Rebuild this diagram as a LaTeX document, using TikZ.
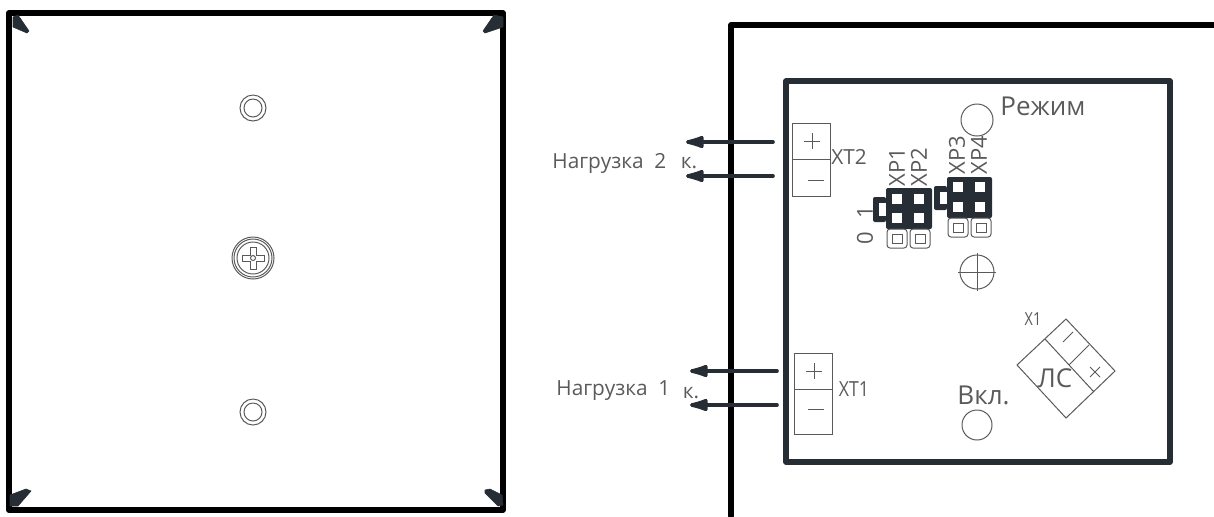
\documentclass[tikz,border=0pt]{standalone}
\usepackage{fontspec}
\setmainfont{Open Sans}
\usetikzlibrary{arrows.meta}
\definecolor{inkdark}{HTML}{262D35}
\definecolor{inkgray}{HTML}{5A5A5A}
\tikzset{
  frameline/.style={line width=2.9pt, line cap=round, line join=round},
  boxline/.style={line width=2.6pt, draw=inkdark, line join=round},
  thinline/.style={line width=0.5pt, draw=inkgray},
  wire/.style={line width=1.8pt, draw=inkdark, line cap=round, -{Latex[round,length=13pt,width=7pt]}},
  wedge/.style={fill=inkdark, draw=inkdark, line width=0.3pt, line join=round},
  lbl/.style={inner sep=0pt, text=inkgray, font=\fontsize{10.4}{11}\selectfont},
  lblbig/.style={lbl, font=\fontsize{13}{14}\selectfont},
  lblsmall/.style={lbl, xscale=0.8, font=\fontsize{9}{10}\selectfont},
  lblpin/.style={lbl, rotate=90, font=\fontsize{11}{12}\selectfont}
}
\begin{document}
\begin{tikzpicture}[x=0.5pt,y=-0.5pt]
\useasboundingbox (0,0) rectangle (1214,516);

% left panel
\draw[frameline] (9,13) rectangle (503,510);
\fill[wedge] (18,15)--(29,31)--(27,33)--(13,27)--(13,17)--cycle;
\fill[wedge] (494,15)--(483,31)--(485,33)--(503,27)--(503,17)--cycle;
\fill[wedge] (26,489)--(31,491)--(18,506)--(10,506)--(10,495)--cycle;
\fill[wedge] (485,490)--(490,489)--(502,495)--(503,505)--(498,506)--(485,493)--cycle;
\foreach \y in {108,412} {
  \draw[thinline] (253,\y) circle (13);
  \draw[thinline] (253,\y) circle (9);
}
\foreach \r in {21,19,16} \draw[thinline] (253,258) circle (\r);
\draw[thinline] (250,247)--(256,247)--(256,255)--(264,255)--(264,261)--(256,261)--(256,269)--(250,269)--(250,261)--(242,261)--(242,255)--(250,255)--cycle;
\draw[thinline] (253,258) circle (2.5);

% right panel
\draw[frameline] (731,516)--(731,25)--(1214,25);
\draw[boxline] (786,81) rectangle (1170,462);

% terminals
\draw[thinline] (792,123) rectangle (830,196);
\draw[thinline] (792,159)--(830,159);
\draw[thinline] (804,141)--(820,141) (812,133)--(812,149);
\draw[thinline] (808,180)--(824,180);
\draw[thinline] (794,353) rectangle (832,434);
\draw[thinline] (794,389)--(832,389);
\draw[thinline] (806,371)--(822,371) (814,363)--(814,379);
\draw[thinline] (808,409)--(824,409);

% wires
\coordinate (xt2p) at (773,142);
\coordinate (xt2m) at (773,176);
\coordinate (xt1p) at (777,371);
\coordinate (xt1m) at (777,405);
\coordinate (out2p) at (686,142);
\coordinate (out2m) at (686,176);
\coordinate (out1p) at (690,371);
\coordinate (out1m) at (690,405);
\draw[wire] (xt2p)--(out2p);
\draw[wire] (xt2m)--(out2m);
\draw[wire] (xt1p)--(out1p);
\draw[wire] (xt1m)--(out1m);

\node[lbl,anchor=west] (load2) at (552,163) {Нагрузка\ \ 2};
\node[lbl] (load2k) at (689,163) {к.};
\node[lbl,anchor=west] (load1) at (556,391) {Нагрузка\ \ 1};
\node[lbl] (load1k) at (691,393) {к.};
\node[lbl] (xt2) at (849,157) {XT2};
\node[lbl,xscale=0.85] (xt1) at (854,389) {XT1};

% jumpers
\fill[inkdark,rounded corners=1pt] (873,197) rectangle (886,222);
\fill[white] (879,203) rectangle (887,216);
\fill[inkdark,rounded corners=1pt] (934,186) rectangle (947,210);
\fill[white] (940,192) rectangle (948,204);
\fill[inkdark,rounded corners=1pt] (886,188) rectangle (932,229);
\fill[inkdark,rounded corners=1pt] (947,177) rectangle (992,218);
\foreach \x/\y in {897/199,897/218,919/199,919/218,958/187,958/207,980/187,980/207}
  \fill[white] (\x-5,\y-5) rectangle (\x+5,\y+5);
\foreach \x/\y in {887/229,910/229,948/218,971/218} {
  \draw[thinline,rounded corners=1.5pt] (\x,\y) rectangle (\x+20,\y+19);
  \draw[thinline] (\x+5,\y+5) rectangle (\x+15,\y+14);
}
\node[lblpin,anchor=west] (xp1) at (897,187) {XP1};
\node[lblpin,anchor=west] (xp2) at (919,187) {XP2};
\node[lblpin,anchor=west] (xp3) at (957,175) {XP3};
\node[lblpin,anchor=west] (xp4) at (979,175) {XP4};
\node[lblpin] (jmp0) at (865,238) {0};
\node[lblpin] (jmp1) at (865,212) {1};

% holes
\draw[thinline] (977,120) circle (16);
\draw[thinline] (977,272) circle (17);
\draw[thinline] (958,272)--(996,272) (977,253)--(977,291);
\draw[thinline] (977,425) circle (15);
\node[lblbig,anchor=west] (mode) at (1000,106) {Режим};
\node[lblbig,anchor=west] (power) at (957,395) {Вкл.};

% X1
\draw[thinline] (1066,319)--(1115,371)--(1066,418)--(1017,365)--cycle;
\draw[thinline] (1045,339)--(1094,392) (1069,365)--(1089,345);
\draw[thinline] (1063,342)--(1073,332);
\draw[thinline] (1090,367)--(1100,377) (1090,377)--(1100,367);
\node[lblsmall] (x1) at (1033,319) {X1};
\node[lblbig] (ls) at (1055,378) {ЛС};
\end{tikzpicture}
\end{document}
